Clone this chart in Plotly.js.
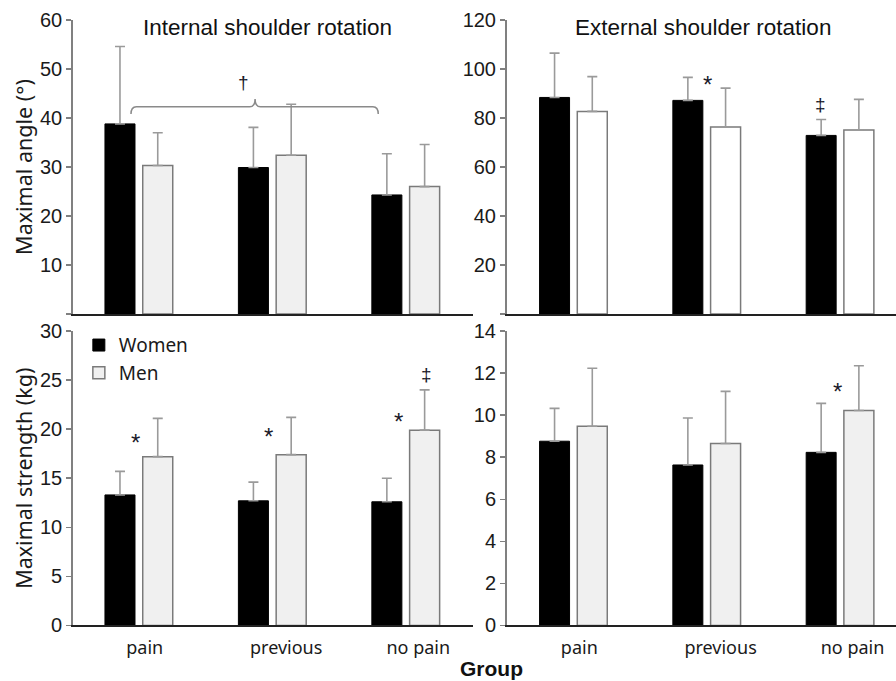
<!DOCTYPE html>
<html>
<head>
<meta charset="utf-8">
<script src="https://cdn.plot.ly/plotly-3.0.1.min.js"></script>
<style>
  html, body { margin: 0; padding: 0; background: #ffffff; }
  #chart { width: 896px; height: 681px; }
</style>
</head>
<body>
<div id="chart"></div>
<script>
// ---- Data ----
var groups = ['pain', 'previous', 'no pain'];
var groupIndex = [0, 1, 2];

// Maximal angle (°) - internal shoulder rotation
var angleIntWomen   = [38.8, 29.9, 24.3];
var angleIntWomenSD = [15.8, 8.2, 8.4];
var angleIntMen     = [30.3, 32.4, 26.0];
var angleIntMenSD   = [6.7, 10.4, 8.6];

// Maximal angle (°) - external shoulder rotation
var angleExtWomen   = [88.4, 87.2, 72.9];
var angleExtWomenSD = [18.1, 9.4, 6.5];
var angleExtMen     = [82.7, 76.3, 75.1];
var angleExtMenSD   = [14.2, 15.9, 12.5];

// Maximal strength (kg) - internal shoulder rotation
var strIntWomen   = [13.3, 12.7, 12.6];
var strIntWomenSD = [2.4, 1.9, 2.4];
var strIntMen     = [17.2, 17.4, 19.9];
var strIntMenSD   = [3.9, 3.8, 4.1];

// Maximal strength (kg) - external shoulder rotation
var strExtWomen   = [8.76, 7.63, 8.23];
var strExtWomenSD = [1.56, 2.23, 2.33];
var strExtMen     = [9.47, 8.65, 10.22];
var strExtMenSD   = [2.76, 2.48, 2.13];

// Tick labels
var tickAngleInt = [0, 10, 20, 30, 40, 50, 60];
var tickAngleExt = [0, 20, 40, 60, 80, 100, 120];
var tickStrInt   = [0, 5, 10, 15, 20, 25, 30];
var tickStrExt   = [0, 2, 4, 6, 8, 10, 12, 14];

// Significance markers
var sigPanel = ['2', '2', '3', '3', '3', '3', '4', '1'];
var sigText  = ['*', '‡', '*', '*', '*', '‡', '*', '†'];
var sigX     = [1.0, 1.85, -0.03, 0.97, 1.945, 2.15, 1.98, 0.777];
var sigY     = [93.6, 85.6, 18.6, 19.2, 20.8, 25.6, 11.1, 47.3];

// Bracket (top-left panel): x of left end, notch, right end; y of tips, bar, notch
var bracketX = [-0.063, 0.867, 1.79];
var bracketY = [40.8, 42.3, 43.9];

// ---- Styles ----
var womenColor = '#000000';
var menFillGray = '#f0f0f0';
var menFillWhite = '#ffffff';
var menLine = '#7a7a7a';
var errColor = '#9a9a9a';
var tickFont = {family: 'Liberation Sans, Arial, sans-serif', size: 20, color: '#1a1a1a'};
var catFont = {family: 'Noto Sans, sans-serif', size: 18, color: '#1a1a1a'};
var titleFont = {family: 'Noto Sans, sans-serif', size: 21.5, color: '#1a1a1a'};

var barW = 0.225;
var womenOffset = -0.258;
var menOffset = 0.025;

function zeros(n) { var a = []; for (var i = 0; i < n; i++) a.push(0); return a; }

function womenTrace(vals, sd, ax, show) {
  return {
    type: 'bar', name: 'Women', legendgroup: 'w', showlegend: show,
    x: groupIndex, y: vals, xaxis: 'x' + ax, yaxis: 'y' + ax,
    width: barW, offset: womenOffset,
    marker: {color: womenColor, line: {color: '#000000', width: 1}},
    error_y: {type: 'data', symmetric: false, array: sd, arrayminus: zeros(sd.length),
              color: errColor, thickness: 1.6, width: 5},
    hoverinfo: 'y'
  };
}
function menTrace(vals, sd, ax, fill, show) {
  return {
    type: 'bar', name: 'Men', legendgroup: 'm', showlegend: show,
    x: groupIndex, y: vals, xaxis: 'x' + ax, yaxis: 'y' + ax,
    width: barW, offset: menOffset,
    marker: {color: fill, line: {color: menLine, width: 1.5}},
    error_y: {type: 'data', symmetric: false, array: sd, arrayminus: zeros(sd.length),
              color: errColor, thickness: 1.6, width: 5},
    hoverinfo: 'y'
  };
}

var data = [
  womenTrace(angleIntWomen, angleIntWomenSD, '', false),
  menTrace(angleIntMen, angleIntMenSD, '', menFillGray, false),
  womenTrace(angleExtWomen, angleExtWomenSD, '2', false),
  menTrace(angleExtMen, angleExtMenSD, '2', menFillWhite, false),
  womenTrace(strIntWomen, strIntWomenSD, '3', true),
  menTrace(strIntMen, strIntMenSD, '3', menFillGray, true),
  womenTrace(strExtWomen, strExtWomenSD, '4', false),
  menTrace(strExtMen, strExtMenSD, '4', menFillGray, false)
];

function labelsNoZero(t) { return t.map(function (v) { return v === 0 ? '' : String(v); }); }

function yAx(ticks, labels, dom, anchor, title) {
  var a = {
    domain: dom, anchor: anchor, range: [0, ticks[ticks.length - 1]],
    tickmode: 'array', tickvals: ticks, ticktext: labels,
    showgrid: false, zeroline: false,
    showline: true, linecolor: '#808080', linewidth: 1.5,
    ticks: 'outside', ticklen: 5, tickwidth: 1.5, tickcolor: '#808080',
    tickfont: tickFont, fixedrange: true
  };
  if (title) { a.title = {text: title, font: titleFont, standoff: 1}; }
  return a;
}
function xAx(dom, anchor, range, showLabels) {
  return {
    domain: dom, anchor: anchor, range: range,
    tickmode: 'array', tickvals: [0.04, 1.1, 2.09], ticktext: groups,
    showticklabels: showLabels, ticks: '', ticklabelstandoff: 5,
    showgrid: false, zeroline: false,
    showline: true, linecolor: '#222222', linewidth: 1.5,
    tickfont: catFont, fixedrange: true
  };
}

var xL = [0.0811, 0.5279], xR = [0.5653, 1.0];
var yT = [0.5389, 0.9706], yB = [0.0815, 0.5140];
var rangeL = [-0.5, 2.5], rangeR = [-0.506, 2.416];

var panelTitleFont = {family: 'Liberation Sans, Arial, sans-serif', size: 22.5, color: '#111111'};
var annotations = [
  {text: 'Internal shoulder rotation', xref: 'paper', yref: 'paper', x: 267 / 896, y: 1 - 28 / 681,
   xanchor: 'center', yanchor: 'middle', showarrow: false, font: panelTitleFont},
  {text: 'External shoulder rotation', xref: 'paper', yref: 'paper', x: 703 / 896, y: 1 - 28 / 681,
   xanchor: 'center', yanchor: 'middle', showarrow: false, font: panelTitleFont},
  {text: '<b>Group</b>', xref: 'paper', yref: 'paper', x: 491 / 896, y: 1 - 668 / 681,
   xanchor: 'center', yanchor: 'middle', showarrow: false,
   font: {family: 'Liberation Sans, Arial, sans-serif', size: 21, color: '#111111'}}
];
for (var i = 0; i < sigText.length; i++) {
  var p = sigPanel[i] === '1' ? '' : sigPanel[i];
  var isStar = sigText[i] === '*';
  annotations.push({
    text: sigText[i], xref: 'x' + p, yref: 'y' + p, x: sigX[i], y: sigY[i],
    xanchor: 'center', yanchor: 'middle', showarrow: false,
    font: {family: 'Liberation Sans, Arial, sans-serif', size: isStar ? 24 : 19, color: '#1a1a2a'}
  });
}

var r = 0.04;
var bp = 'M' + bracketX[0] + ',' + bracketY[0] +
  ' Q' + bracketX[0] + ',' + bracketY[1] + ' ' + (bracketX[0] + r) + ',' + bracketY[1] +
  ' L' + (bracketX[1] - r) + ',' + bracketY[1] +
  ' Q' + bracketX[1] + ',' + bracketY[1] + ' ' + bracketX[1] + ',' + bracketY[2] +
  ' Q' + bracketX[1] + ',' + bracketY[1] + ' ' + (bracketX[1] + r) + ',' + bracketY[1] +
  ' L' + (bracketX[2] - r) + ',' + bracketY[1] +
  ' Q' + bracketX[2] + ',' + bracketY[1] + ' ' + bracketX[2] + ',' + bracketY[0];

var layout = {
  width: 896, height: 681,
  margin: {l: 0, r: 0, t: 0, b: 0, pad: 0},
  paper_bgcolor: '#ffffff', plot_bgcolor: 'rgba(0,0,0,0)',
  barmode: 'overlay', bargap: 0,
  showlegend: true,
  legend: {x: 0.088, y: 0.521, xanchor: 'left', yanchor: 'top',
           bgcolor: 'rgba(0,0,0,0)', borderwidth: 0, tracegroupgap: 0,
           font: {family: 'Noto Sans, sans-serif', size: 19, color: '#1a1a1a'}},
  xaxis:  xAx(xL, 'y', rangeL, false),
  yaxis:  yAx(tickAngleInt, labelsNoZero(tickAngleInt), yT, 'x', 'Maximal angle (°)'),
  xaxis2: xAx(xR, 'y2', rangeR, false),
  yaxis2: yAx(tickAngleExt, labelsNoZero(tickAngleExt), yT, 'x2', null),
  xaxis3: xAx(xL, 'y3', rangeL, true),
  yaxis3: yAx(tickStrInt, tickStrInt.map(String), yB, 'x3', 'Maximal strength (kg)'),
  xaxis4: xAx(xR, 'y4', rangeR, true),
  yaxis4: yAx(tickStrExt, tickStrExt.map(String), yB, 'x4', null),
  annotations: annotations,
  shapes: [{type: 'path', xref: 'x', yref: 'y', path: bp,
            line: {color: '#8a8a8a', width: 1.5}}]
};

Plotly.newPlot('chart', data, layout, {displayModeBar: false, staticPlot: true});
</script>
</body>
</html>
